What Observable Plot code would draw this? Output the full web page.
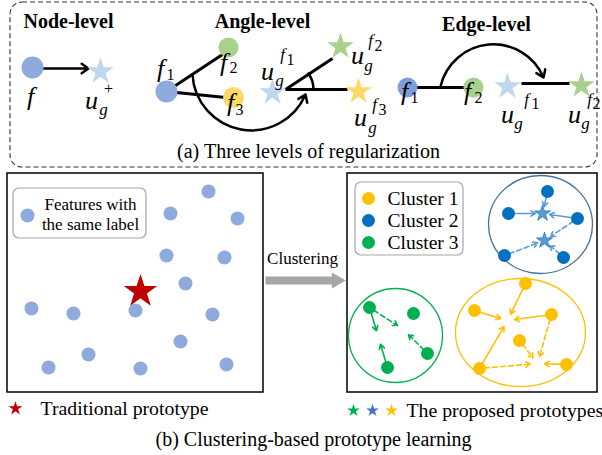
<!DOCTYPE html>
<html><head><meta charset="utf-8">
<script src="https://cdn.jsdelivr.net/npm/d3@7"></script>
<script src="https://cdn.jsdelivr.net/npm/@observablehq/plot@0.6"></script>
<style>body{margin:0;background:#fff} svg text{font-family:"Liberation Serif","Times New Roman",Times,"DejaVu Serif",serif}</style>
</head><body><div id="chart"></div>
<script>
// ---------------- data (diagram coordinates in a 602 x 455 space) ----------------
const panelTitles = [
  {label: "Node-level", x: 68, y: 21},
  {label: "Angle-level", x: 262, y: 21},
  {label: "Edge-level", x: 486, y: 24}
];
const featureNodes = [
  {x: 32, y: 67, r: 11, kind: "f"},
  {x: 166, y: 91, r: 11, kind: "f"},
  {x: 228, y: 47, r: 10, kind: "f2"},
  {x: 233, y: 97, r: 10.5, kind: "f3"},
  {x: 407, y: 87, r: 10, kind: "fEdge"},
  {x: 473, y: 87, r: 10, kind: "f2"}
];
const prototypeStars = [
  {x: 100, y: 71, kind: "u"},
  {x: 272, y: 92, kind: "u"},
  {x: 340, y: 46, kind: "u2"},
  {x: 358, y: 91, kind: "u3"},
  {x: 507, y: 86, kind: "u"},
  {x: 581, y: 85, kind: "u2"}
];
const relationLines = [
  {x1: 166, y1: 91, x2: 222, y2: 54},
  {x1: 166, y1: 91, x2: 225, y2: 97},
  {x1: 285, y1: 89, x2: 332, y2: 58},
  {x1: 285, y1: 89, x2: 347, y2: 89},
  {x1: 407, y1: 87, x2: 473, y2: 87},
  {x1: 521, y1: 83, x2: 569, y2: 83}
];
const nodeArrow = [{x1: 43, y1: 68, x2: 88, y2: 68}];
const bentArrows = [
  {x1: 192, y1: 74, x2: 305, y2: 94, bend: -77},
  {x1: 440, y1: 86, x2: 543, y2: 77, bend: 72}
];
const angleArcs = [{x1: 308, y1: 73, x2: 313, y2: 89, bend: 17}];
// math labels: role = main (italic letter), sub (italic small), num (upright small)
const mathLabels = [
  {t: "f", x: 30, y: 96, role: "main"},
  {t: "u", x: 91, y: 100, role: "main"}, {t: "g", x: 103, y: 109, role: "sub"}, {t: "+", x: 108, y: 88, role: "num"},
  {t: "f", x: 160, y: 68, role: "main"}, {t: "1", x: 170, y: 74, role: "num"},
  {t: "f", x: 223, y: 62, role: "main"}, {t: "2", x: 233, y: 67, role: "num"},
  {t: "f", x: 230, y: 102, role: "main"}, {t: "3", x: 239, y: 109, role: "num"},
  {t: "u", x: 267, y: 71, role: "main"}, {t: "g", x: 279, y: 80, role: "sub"}, {t: "f", x: 282, y: 54, role: "sub"}, {t: "1", x: 290, y: 59, role: "num"},
  {t: "u", x: 357, y: 55, role: "main"}, {t: "g", x: 368, y: 65, role: "sub"}, {t: "f", x: 370, y: 40, role: "sub"}, {t: "2", x: 378, y: 45, role: "num"},
  {t: "u", x: 360, y: 117, role: "main"}, {t: "g", x: 372, y: 127, role: "sub"}, {t: "f", x: 374, y: 104, role: "sub"}, {t: "3", x: 382, y: 109, role: "num"},
  {t: "f", x: 404, y: 91, role: "main"}, {t: "1", x: 414, y: 97, role: "num"},
  {t: "f", x: 467, y: 91, role: "main"}, {t: "2", x: 478, y: 97, role: "num"},
  {t: "u", x: 507, y: 114, role: "main"}, {t: "g", x: 518, y: 123, role: "sub"}, {t: "f", x: 526, y: 99, role: "sub"}, {t: "1", x: 535, y: 103, role: "num"},
  {t: "u", x: 574, y: 114, role: "main"}, {t: "g", x: 585, y: 123, role: "sub"}, {t: "f", x: 589, y: 99, role: "sub"}, {t: "2", x: 596, y: 103, role: "num"}
];
const panelBox = [{x1: 10, y1: 2, x2: 597, y2: 167}];
const captions = [
  {label: "(a) Three levels of regularization", x: 308, y: 151},
  {label: "(b) Clustering-based prototype learning", x: 313, y: 439}
];

// panel (b)
const frames = [{x1: 7, y1: 173, x2: 263, y2: 392}, {x1: 347, y1: 173, x2: 597, y2: 392}];
const legendBoxes = [{x1: 13, y1: 188, x2: 146, y2: 238}, {x1: 355, y1: 182, x2: 463, y2: 255}];
const sameLabelFeatures = [
  [208, 191], [170, 213], [237, 218], [166, 255], [224, 257], [185, 283],
  [31, 308], [73, 313], [135, 310], [212, 314], [180, 341], [88, 354],
  [48, 367], [140, 368], [226, 364]
];
const traditionalPrototype = [[140, 291]];
const featureLegend = [{x: 27, y: 215}];
const featureLegendText = [{label: "Features with", x: 90, y: 204}, {label: "the same label", x: 90, y: 224}];
const clusteringShaft = [{x1: 265, y1: 280, x2: 334, y2: 280}];
const clusteringHead = [{x: 336, y: 280}];
const clusteringText = [{label: "Clustering", x: 302, y: 258}];

const clusterNames = ["Cluster 1", "Cluster 2", "Cluster 3"];
const cluster1Points = [[525, 283], [474, 310], [551, 314], [519, 340], [479, 368], [566, 364]];
const cluster2Points = [[547, 191], [508, 213], [577, 218], [504, 255], [563, 257]];
const cluster3Points = [[369, 307], [413, 313], [427, 353], [387, 367]];
const cluster1Stars = [[507, 320], [537, 363]];
const cluster2Stars = [[542, 213], [544, 240]];
const cluster3Stars = [[378, 337], [403, 329]];
// [point index, star index, dashed?]
const cluster1Links = [[0, 0, 0], [1, 0, 0], [2, 0, 0], [4, 0, 0], [2, 1, 1], [3, 1, 1], [4, 1, 1], [5, 1, 0]];
const cluster2Links = [[0, 0, 0], [1, 0, 0], [2, 0, 0], [2, 1, 1], [3, 1, 1], [4, 1, 1]];
const cluster3Links = [[0, 0, 0], [3, 0, 0], [0, 1, 1], [2, 1, 1]];
const clusterEllipses = [
  {cluster: "Cluster 1", x: 520, y: 332, rx: 65, ry: 54},
  {cluster: "Cluster 2", x: 540, y: 224, rx: 52, ry: 49},
  {cluster: "Cluster 3", x: 395, y: 335, rx: 47, ry: 47}
];
const clusterLegend = [
  {cluster: "Cluster 1", x: 368, y: 198},
  {cluster: "Cluster 2", x: 368, y: 220},
  {cluster: "Cluster 3", x: 368, y: 242}
];
const proposedStars = [{x: 353, y: 410, kind: "g"}, {x: 372, y: 410, kind: "b"}, {x: 391, y: 410, kind: "y"}];
const bottomLegendText = [
  {label: "Traditional prototype", x: 40, y: 408},
  {label: "The proposed prototypes", x: 406, y: 410}
];
const traditionalLegendStar = [[15, 408]];

// ---------------- styles ----------------
const topColors = {f: "#8faadc", fEdge: "#7f9ddb", f2: "#a9d18e", f3: "#ffd966", u: "#bdd7ee", u2: "#a9d18e", u3: "#ffd966"};
const pointColor = {"Cluster 1": "#ffc000", "Cluster 2": "#0070c0", "Cluster 3": "#00b050"};
const starColor = {"Cluster 1": "#ffc000", "Cluster 2": "#5b9bd5", "Cluster 3": "#00b050"};
const lineColor = {"Cluster 1": "#ffc000", "Cluster 2": "#5b9bd5", "Cluster 3": "#00b050"};
const ringColor = {"Cluster 1": "#ffc000", "Cluster 2": "#41719c", "Cluster 3": "#00b050"};
const proposedColor = {g: "#00b050", b: "#4472c4", y: "#ffc000"};
const SERIF = "'Liberation Serif', 'Times New Roman', Times, 'DejaVu Serif', serif";

// ---------------- derived tables ----------------
const pointSets = [cluster1Points, cluster2Points, cluster3Points];
const starSets = [cluster1Stars, cluster2Stars, cluster3Stars];
const linkSets = [cluster1Links, cluster2Links, cluster3Links];
const clusterPts = pointSets.flatMap((ps, i) => ps.map(([x, y]) => ({x, y, cluster: clusterNames[i]})));
const clusterStars = starSets.flatMap((ss, i) => ss.map(([x, y]) => ({x, y, cluster: clusterNames[i]})));
const clusterLinks = linkSets.flatMap((ls, i) => ls.map(([p, s, d]) => ({
  x1: pointSets[i][p][0], y1: pointSets[i][p][1],
  x2: starSets[i][s][0], y2: starSets[i][s][1],
  dashed: d === 1, cluster: clusterNames[i]
})));

function ellipseSymbol(ratio) {
  const k = 0.5522847498;
  return {
    draw(ctx, size) {
      const rx = Math.sqrt(size / Math.PI), ry = rx * ratio;
      ctx.moveTo(rx, 0);
      ctx.bezierCurveTo(rx, ry * k, rx * k, ry, 0, ry);
      ctx.bezierCurveTo(-rx * k, ry, -rx, ry * k, -rx, 0);
      ctx.bezierCurveTo(-rx, -ry * k, -rx * k, -ry, 0, -ry);
      ctx.bezierCurveTo(rx * k, -ry, rx, -ry * k, rx, 0);
      ctx.closePath();
    }
  };
}

const roleStyle = {
  main: {fontSize: 26, fontStyle: "italic"},
  sub: {fontSize: 17, fontStyle: "italic"},
  num: {fontSize: 16, fontStyle: "normal"}
};
const mathMarks = Object.entries(roleStyle).map(([role, st]) =>
  Plot.text(mathLabels.filter(d => d.role === role), {x: "x", y: "y", text: "t", fill: "black", fontFamily: SERIF, ...st})
);
const T = {fontFamily: SERIF, fill: "black"};

const plot = Plot.plot({
  width: 602, height: 455, margin: 0,
  x: {domain: [0, 602], axis: null},
  y: {domain: [0, 455], reverse: true, axis: null},
  color: {type: "identity"},
  r: {type: "identity"},
  style: {fontFamily: SERIF, background: "#fff", overflow: "visible"},
  marks: [
    // panel (a)
    Plot.rect(panelBox, {x1: "x1", x2: "x2", y1: "y1", y2: "y2", rx: 12, fill: "none", stroke: "#333", strokeWidth: 1.1, strokeDasharray: "5,3"}),
    Plot.text(panelTitles, {x: "x", y: "y", text: "label", fontWeight: "bold", fontSize: 20, ...T}),
    Plot.link(relationLines, {x1: "x1", y1: "y1", x2: "x2", y2: "y2", stroke: "black", strokeWidth: 3}),
    Plot.arrow(nodeArrow, {x1: "x1", y1: "y1", x2: "x2", y2: "y2", stroke: "black", strokeWidth: 2.5, headLength: 5, headAngle: 70}),
    ...angleArcs.map(a => Plot.arrow([a], {x1: "x1", y1: "y1", x2: "x2", y2: "y2", bend: a.bend, stroke: "black", strokeWidth: 2.5, headLength: 0})),
    ...bentArrows.map(a => Plot.arrow([a], {x1: "x1", y1: "y1", x2: "x2", y2: "y2", bend: a.bend, stroke: "black", strokeWidth: 2.5, headLength: 5, headAngle: 70})),
    Plot.dot(featureNodes, {x: "x", y: "y", r: "r", fill: d => topColors[d.kind], stroke: null}),
    Plot.dot(prototypeStars, {x: "x", y: "y", r: 8.3, symbol: "star", fill: d => topColors[d.kind]}),
    ...mathMarks,
    Plot.text(captions, {x: "x", y: "y", text: "label", fontSize: 20, ...T}),

    // panel (b)
    Plot.rect(frames, {x1: "x1", x2: "x2", y1: "y1", y2: "y2", fill: "none", stroke: "black", strokeWidth: 1.5}),
    Plot.rect(legendBoxes, {x1: "x1", x2: "x2", y1: "y1", y2: "y2", rx: 6, fill: "white", stroke: "#a6a6a6", strokeWidth: 1.2}),
    Plot.dot(sameLabelFeatures, {x: d => d[0], y: d => d[1], r: 7, fill: "#8faadc"}),
    Plot.dot(featureLegend, {x: "x", y: "y", r: 7, fill: "#8faadc"}),
    Plot.text(featureLegendText, {x: "x", y: "y", text: "label", fontSize: 17, ...T}),
    Plot.dot(traditionalPrototype, {x: d => d[0], y: d => d[1], r: 10.5, symbol: "star", fill: "#c00000"}),
    Plot.link(clusteringShaft, {x1: "x1", y1: "y1", x2: "x2", y2: "y2", stroke: "#a6a6a6", strokeWidth: 8}),
    Plot.dot(clusteringHead, {x: "x", y: "y", r: 6, symbol: "triangle", rotate: 90, fill: "#a6a6a6"}),
    Plot.text(clusteringText, {x: "x", y: "y", text: "label", fontSize: 17, ...T}),
    ...clusterEllipses.map(e => Plot.dot([e], {x: "x", y: "y", r: e.rx, symbol: ellipseSymbol(e.ry / e.rx), fill: "none", stroke: ringColor[e.cluster], strokeWidth: 1.3})),
    Plot.arrow(clusterLinks.filter(d => !d.dashed), {x1: "x1", y1: "y1", x2: "x2", y2: "y2", stroke: d => lineColor[d.cluster], strokeWidth: 1.6, insetStart: 5, insetEnd: 7, headLength: 5, headAngle: 60}),
    Plot.arrow(clusterLinks.filter(d => d.dashed), {x1: "x1", y1: "y1", x2: "x2", y2: "y2", stroke: d => lineColor[d.cluster], strokeWidth: 1.6, strokeDasharray: "5,3", insetStart: 5, insetEnd: 7, headLength: 5, headAngle: 60}),
    Plot.dot(clusterPts, {x: "x", y: "y", r: 6.5, fill: d => pointColor[d.cluster]}),
    Plot.dot(clusterStars, {x: "x", y: "y", r: 5, symbol: "star", fill: d => starColor[d.cluster], stroke: d => d.cluster === "Cluster 2" ? "#2e75b6" : null, strokeWidth: 0.8}),
    Plot.dot(clusterLegend, {x: "x", y: "y", r: 6.5, fill: d => pointColor[d.cluster]}),
    Plot.text(clusterLegend, {x: d => d.x + 19, y: "y", text: "cluster", textAnchor: "start", fontSize: 19.5, ...T}),
    Plot.dot(proposedStars, {x: "x", y: "y", r: 4, symbol: "star", fill: d => proposedColor[d.kind]}),
    Plot.dot(traditionalLegendStar, {x: d => d[0], y: d => d[1], r: 4.4, symbol: "star", fill: "#c00000"}),
    Plot.text(bottomLegendText, {x: "x", y: "y", text: "label", textAnchor: "start", fontSize: 19.8, ...T})
  ]
});
document.getElementById("chart").appendChild(plot);
</script></body></html>
